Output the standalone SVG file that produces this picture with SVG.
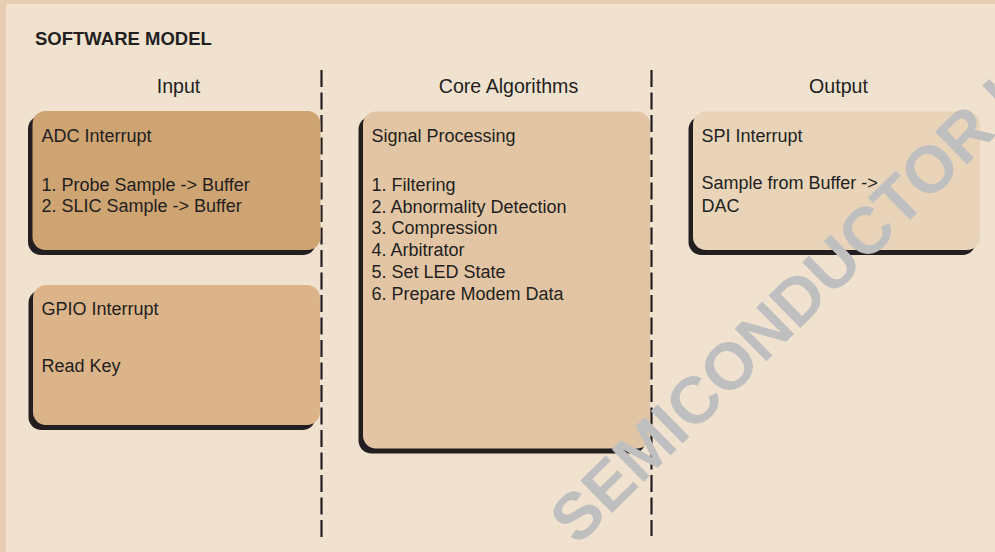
<svg xmlns="http://www.w3.org/2000/svg" width="995" height="552" viewBox="0 0 995 552">
  <style>
    .title { font-family: "Liberation Sans", Arial, sans-serif; font-weight: bold; font-size: 18.5px; fill: #231f20; }
    .head { font-family: "Liberation Sans", Arial, sans-serif; font-size: 19.6px; fill: #231f20; text-anchor: middle; }
    .txt { font-family: "Liberation Sans", Arial, sans-serif; font-size: 18px; fill: #231f20; }
    .shadow { fill: #231f20; }
    .sep { stroke: #231f20; stroke-width: 2.2; stroke-dasharray: 17 5.5; fill: none; }
    .mark { font-family: "Liberation Sans", Arial, sans-serif; font-weight: bold; font-size: 66px; fill: #bfbfbf; }
  </style>

  <!-- page frame -->
  <rect x="0" y="0" width="995" height="552" fill="#e7cdb1"/>
  <rect x="6" y="4" width="989" height="548" fill="#f1e2d0"/>

  <text class="title" x="35" y="45">SOFTWARE MODEL</text>

  <!-- column headings -->
  <text class="head" x="178.5" y="93">Input</text>
  <text class="head" x="508.5" y="93">Core Algorithms</text>
  <text class="head" x="838.5" y="93">Output</text>

  <!-- column separators -->
  <g id="separators">
    <line class="sep" x1="321.5" y1="70" x2="321.5" y2="537"/>
    <line class="sep" x1="651.5" y1="70" x2="651.5" y2="536"/>
  </g>

  <g id="adc-interrupt">
    <rect class="shadow" x="28" y="116" width="288" height="139" rx="13"/>
    <rect x="32.5" y="111" width="288" height="139" rx="13" fill="#cda472"/>
    <text class="txt" x="41.5" y="142.3">ADC Interrupt</text>
    <text class="txt" x="41.5" y="190.5">1. Probe Sample -&gt; Buffer</text>
    <text class="txt" x="41.5" y="212.3">2. SLIC Sample -&gt; Buffer</text>
  </g>

  <g id="gpio-interrupt">
    <rect class="shadow" x="28.5" y="290" width="287" height="140" rx="13"/>
    <rect x="33" y="285" width="287" height="140" rx="13" fill="#dbb48a"/>
    <text class="txt" x="41.5" y="315">GPIO Interrupt</text>
    <text class="txt" x="41.5" y="371.7">Read Key</text>
  </g>

  <g id="signal-processing">
    <rect class="shadow" x="358.5" y="116.5" width="287" height="337" rx="13"/>
    <rect x="363" y="111.5" width="287" height="337" rx="13" fill="#e2c5a4"/>
    <text class="txt" x="371.5" y="142.3">Signal Processing</text>
    <text class="txt" x="371.5" y="190.6">1. Filtering</text>
    <text class="txt" x="371.5" y="212.5">2. Abnormality Detection</text>
    <text class="txt" x="371.5" y="234.4">3. Compression</text>
    <text class="txt" x="371.5" y="256.3">4. Arbitrator</text>
    <text class="txt" x="371.5" y="278.2">5. Set LED State</text>
    <text class="txt" x="371.5" y="300.1">6. Prepare Modem Data</text>
  </g>

  <g id="spi-interrupt">
    <rect class="shadow" x="688.5" y="116.5" width="287" height="138.5" rx="13"/>
    <rect x="693" y="111.5" width="287" height="138.5" rx="13" fill="#e9d4b9"/>
    <text class="txt" x="701.5" y="141.7">SPI Interrupt</text>
    <text class="txt" x="701.5" y="189.3">Sample from Buffer -&gt;</text>
    <text class="txt" x="701.5" y="211.7">DAC</text>
  </g>

  <!-- diagonal watermark, partly outside the page -->
  <text class="mark" transform="translate(577.6,546.8) rotate(-44.5)">SEMICONDUCTOR I</text>
</svg>
